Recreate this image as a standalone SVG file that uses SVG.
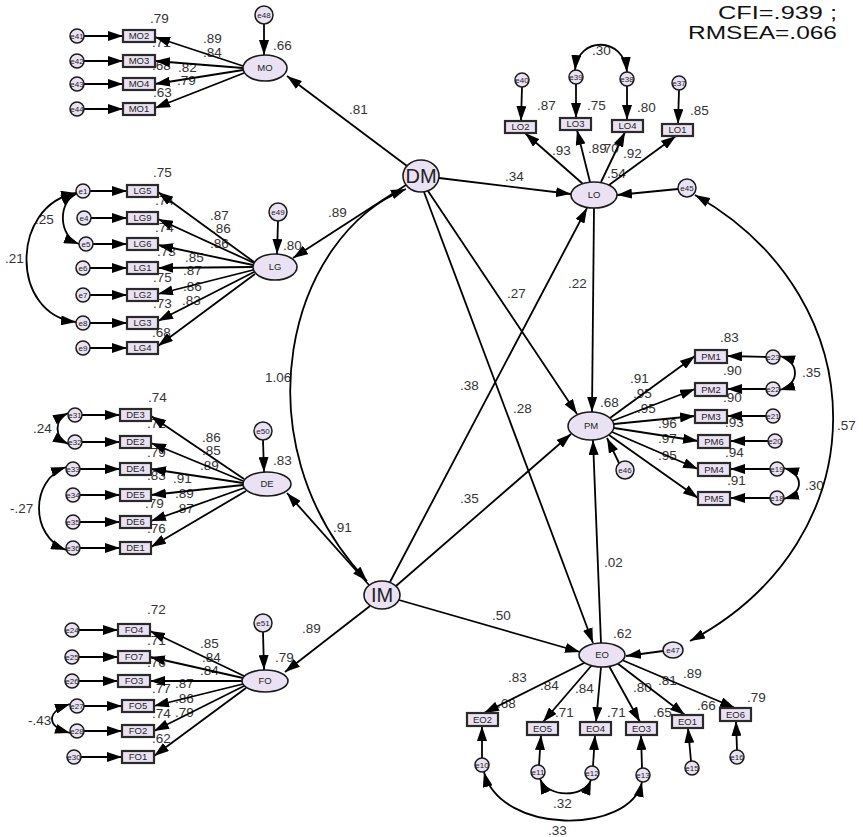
<svg xmlns="http://www.w3.org/2000/svg" width="863" height="837" viewBox="0 0 863 837">
<defs>
<marker id="ah" markerUnits="userSpaceOnUse" markerWidth="15" markerHeight="10" viewBox="0 0 15 10" refX="15" refY="5" orient="auto-start-reverse"><path d="M0,0 L15,5 L0,10 z" fill="#000"/></marker>
</defs>
<style>
.lv{fill:#EAE2F2;stroke:#1a1a1a;stroke-width:1.6}
.ob{fill:#EAE2F2;stroke:#2a2a2a;stroke-width:2.2}
.er{fill:#EAE2F2;stroke:#1a1a1a;stroke-width:1.5}
.c{fill:none;stroke:#000;stroke-width:1.8}
.c path{marker-end:url(#ah)}
.c path.b{marker-start:url(#ah)}
.t{font-family:"Liberation Sans",Arial,sans-serif;font-size:13.5px;fill:#333}
.tn{font-family:"Liberation Sans",Arial,sans-serif;font-size:9.5px;fill:#222;text-anchor:middle}
.te{font-family:"Liberation Sans",Arial,sans-serif;font-size:8px;fill:#222;text-anchor:middle}
.tb{font-family:"Liberation Sans",Arial,sans-serif;font-size:20px;fill:#222;text-anchor:middle}
.fit{font-family:"Liberation Sans",Arial,sans-serif;font-size:18.5px;fill:#111}
</style>
<rect width="863" height="837" fill="#fff"/>
<text class="fit" x="718" y="19" textLength="119" lengthAdjust="spacingAndGlyphs">CFI=.939 ;</text>
<text class="fit" x="688" y="39" textLength="149" lengthAdjust="spacingAndGlyphs">RMSEA=.066</text>
<g id="labels" class="t">
<text x="150" y="23">.79</text><text x="152" y="47">.71</text><text x="152" y="70">.68</text><text x="153" y="97">.63</text>
<text x="203" y="43">.89</text><text x="203" y="57">.84</text><text x="178" y="72">.82</text><text x="177" y="85">.79</text><text x="273" y="50">.66</text>
<text x="349" y="114">.81</text>
<text x="153" y="177">.75</text><text x="155" y="205">.74</text><text x="155" y="232">.74</text><text x="157" y="256">.73</text><text x="153" y="282">.75</text><text x="153" y="308">.73</text><text x="152" y="337">.68</text>
<text x="210" y="220">.87</text><text x="212" y="233">.86</text><text x="210" y="248">.86</text><text x="185" y="262">.85</text><text x="183" y="275">.87</text><text x="183" y="291">.86</text><text x="182" y="305">.83</text>
<text x="283" y="250">.80</text><text x="35" y="224">.25</text><text x="5" y="263">.21</text>
<text x="328" y="217">.89</text><text x="265" y="382">1.06</text>
<text x="148" y="402">.74</text><text x="147" y="428">.72</text><text x="147" y="457">.79</text><text x="147" y="480">.83</text><text x="145" y="508">.79</text><text x="147" y="533">.76</text>
<text x="202" y="442">.86</text><text x="202" y="455">.85</text><text x="200" y="470">.89</text><text x="173" y="483">.91</text><text x="175" y="498">.89</text><text x="175" y="513">.87</text>
<text x="273" y="465">.83</text><text x="33" y="433">.24</text><text x="10" y="513">-.27</text><text x="333" y="532">.91</text>
<text x="147" y="614">.72</text><text x="147" y="645">.71</text><text x="147" y="667">.76</text><text x="152" y="693">.77</text><text x="152" y="718">.74</text><text x="152" y="743">.62</text>
<text x="200" y="648">.85</text><text x="202" y="662">.84</text><text x="200" y="675">.84</text><text x="175" y="688">.87</text><text x="175" y="703">.86</text><text x="175" y="717">.79</text>
<text x="275" y="662">.79</text><text x="302" y="633">.89</text><text x="28" y="725">-.43</text>
<text x="537" y="110">.87</text><text x="587" y="110">.75</text><text x="637" y="112">.80</text><text x="690" y="115">.85</text>
<text x="552" y="155">.93</text><text x="588" y="153">.89</text><text x="600" y="153">.70</text><text x="623" y="158">.92</text><text x="607" y="178">.54</text><text x="592" y="55">.30</text><text x="505" y="181">.34</text>
<text x="507" y="298">.27</text><text x="513" y="413">.28</text><text x="460" y="390">.38</text><text x="460" y="503">.35</text><text x="492" y="620">.50</text><text x="568" y="288">.22</text><text x="604" y="567">.02</text>
<text x="720" y="342">.83</text><text x="723" y="375">.90</text><text x="723" y="402">.90</text><text x="725" y="427">.93</text><text x="725" y="457">.94</text><text x="727" y="485">.91</text>
<text x="630" y="383">.91</text><text x="633" y="398">.95</text><text x="637" y="413">.95</text><text x="658" y="428">.96</text><text x="658" y="443">.97</text><text x="658" y="460">.95</text>
<text x="600" y="407">.68</text><text x="802" y="377">.35</text><text x="805" y="490">.30</text><text x="837" y="430">.57</text>
<text x="613" y="638">.62</text><text x="508" y="682">.83</text><text x="540" y="690">.84</text><text x="575" y="693">.84</text><text x="633" y="692">.80</text><text x="658" y="685">.81</text><text x="683" y="678">.89</text>
<text x="497" y="708">.68</text><text x="555" y="717">.71</text><text x="607" y="717">.71</text><text x="653" y="717">.65</text><text x="697" y="710">.66</text><text x="747" y="702">.79</text>
<text x="553" y="808">.32</text><text x="548" y="835">.33</text>
</g>
<g id="connectors" class="c">
<path d="M84,36 L123,36"/><path d="M84,61 L123,61"/><path d="M84,84 L123,84"/><path d="M84,109 L123,109"/>
<path d="M243,66 L155,37"/><path d="M243,68 L155,61"/><path d="M243,70 L155,84"/><path d="M244,73 L155,108"/>
<path d="M264,24 L264,55"/><path d="M407,166 L287,76"/>
<path d="M90,191 L127,191"/><path d="M91,218 L127,218"/><path d="M93,244 L127,244"/><path d="M90,268 L127,268"/><path d="M90,295 L127,295"/><path d="M90,323 L127,323"/><path d="M90,348 L127,348"/>
<path d="M254,262 L158,192"/><path d="M254,263 L158,219"/><path d="M253,265 L158,245"/><path d="M253,267 L158,268"/><path d="M253,270 L158,294"/><path d="M254,272 L158,321"/><path d="M255,274 L158,346"/>
<path class="b" d="M76,194 C58,202 58,236 79,244"/><path class="b" d="M76,193 C10,205 10,315 76,322"/>
<path d="M278,221 L277,254"/><path d="M406,185 L293,258"/>
<path class="b" d="M406,189 C290,235 235,440 367,581"/>
<path d="M82,415 L120,415"/><path d="M82,442 L120,442"/><path d="M80,469 L120,469"/><path d="M80,495 L120,495"/><path d="M80,522 L120,522"/><path d="M80,548 L120,548"/>
<path d="M244,479 L151,416"/><path d="M243,481 L151,443"/><path d="M243,483 L151,469"/><path d="M243,485 L151,495"/><path d="M244,488 L151,521"/><path d="M246,491 L151,547"/>
<path class="b" d="M68,413 C54,420 54,437 68,444"/><path class="b" d="M66,467 C30,480 30,536 66,550"/>
<path d="M263,440 L264,472"/><path d="M369,585 L287,493"/>
<path d="M79,630 L118,630"/><path d="M79,657 L118,657"/><path d="M79,681 L118,681"/><path d="M84,706 L122,706"/><path d="M84,731 L122,731"/><path d="M81,757 L122,757"/>
<path d="M244,676 L150,631"/><path d="M243,678 L150,657"/><path d="M242,681 L150,681"/><path d="M243,684 L154,706"/><path d="M244,686 L154,731"/><path d="M246,688 L154,756"/>
<path class="b" d="M70,704 C46,712 46,726 70,733"/>
<path d="M263,632 L264,670"/><path d="M370,606 L285,672"/>
<path d="M522,87 L521,121"/><path d="M576,84 L576,118"/><path d="M627,86 L627,120"/><path d="M679,90 L678,124"/>
<path d="M583,184 L525,133"/><path d="M590,182 L577,130"/><path d="M601,182 L625,132"/><path d="M609,185 L676,136"/>
<path class="b" d="M575,70 C578,36 624,36 627,72"/>
<path d="M678,189 L617,195"/>
<path d="M439,178 L571,194"/><path d="M428,191 L577,414"/><path d="M424,192 L593,643"/>
<path d="M390,582 L587,208"/><path d="M396,586 L571,434"/><path d="M399,600 L580,652"/>
<path d="M594,208 L592,412"/><path d="M601,643 L593,440"/>
<path class="b" d="M695,195 C880,300 880,540 690,641"/>
<path d="M610,418 L695,356"/><path d="M612,421 L695,389"/><path d="M614,424 L695,416"/><path d="M614,428 L698,441"/><path d="M612,432 L698,469"/><path d="M609,435 L698,498"/>
<path d="M766,357 L727,356"/><path d="M766,389 L727,389"/><path d="M766,416 L727,416"/><path d="M768,441 L730,441"/><path d="M770,469 L730,469"/><path d="M770,498 L730,498"/>
<path class="b" d="M780,356 C800,362 800,384 780,390"/><path class="b" d="M784,468 C804,474 804,493 784,499"/>
<path d="M619,463 L607,438"/>
<path d="M586,662 L484,713"/><path d="M592,665 L543,722"/><path d="M601,667 L596,722"/><path d="M609,666 L640,722"/><path d="M617,663 L685,715"/><path d="M622,660 L735,708"/>
<path d="M482,758 L482,726"/><path d="M539,765 L541,735"/><path d="M593,766 L595,735"/><path d="M642,768 L641,735"/><path d="M691,761 L688,728"/><path d="M737,750 L736,721"/>
<path class="b" d="M540,779 C548,798 584,798 591,780"/><path class="b" d="M484,772 C500,835 630,835 642,782"/>
<path d="M663,651 L626,656"/>
</g>
<g id="DM"><ellipse class="lv" cx="421" cy="176" rx="18" ry="16"/><text class="tb" x="421" y="183">DM</text></g>
<g id="IM"><ellipse class="lv" cx="382" cy="595" rx="18" ry="14"/><text class="tb" x="382" y="602">IM</text></g>
<g id="MO"><ellipse class="lv" cx="265" cy="68" rx="22" ry="13"/><text class="tn" x="265" y="71">MO</text></g>
<g id="e48"><circle class="er" cx="264" cy="15" r="9"/><text class="te" x="264" y="18">e48</text></g>
<g id="MO2"><rect class="ob" x="123" y="30" width="32" height="12"/><text class="tn" x="139" y="39">MO2</text></g>
<g id="MO3"><rect class="ob" x="123" y="55" width="32" height="12"/><text class="tn" x="139" y="64">MO3</text></g>
<g id="MO4"><rect class="ob" x="123" y="78" width="32" height="12"/><text class="tn" x="139" y="87">MO4</text></g>
<g id="MO1"><rect class="ob" x="123" y="103" width="32" height="12"/><text class="tn" x="139" y="112">MO1</text></g>
<g id="e41"><circle class="er" cx="77" cy="36" r="7"/><text class="te" x="77" y="39">e41</text></g>
<g id="e42"><circle class="er" cx="77" cy="61" r="7"/><text class="te" x="77" y="64">e42</text></g>
<g id="e43"><circle class="er" cx="77" cy="84" r="7"/><text class="te" x="77" y="87">e43</text></g>
<g id="e44"><circle class="er" cx="77" cy="109" r="7"/><text class="te" x="77" y="112">e44</text></g>
<g id="LG"><ellipse class="lv" cx="275" cy="267" rx="22" ry="13"/><text class="tn" x="275" y="270">LG</text></g>
<g id="e49"><circle class="er" cx="278" cy="212" r="9"/><text class="te" x="278" y="215">e49</text></g>
<g id="LG5"><rect class="ob" x="127" y="185" width="31" height="12"/><text class="tn" x="142.5" y="194">LG5</text></g>
<g id="LG9"><rect class="ob" x="127" y="212" width="31" height="12"/><text class="tn" x="142.5" y="221">LG9</text></g>
<g id="LG6"><rect class="ob" x="127" y="238" width="31" height="12"/><text class="tn" x="142.5" y="247">LG6</text></g>
<g id="LG1"><rect class="ob" x="127" y="262" width="31" height="12"/><text class="tn" x="142.5" y="271">LG1</text></g>
<g id="LG2"><rect class="ob" x="127" y="289" width="31" height="12"/><text class="tn" x="142.5" y="298">LG2</text></g>
<g id="LG3"><rect class="ob" x="127" y="317" width="31" height="12"/><text class="tn" x="142.5" y="326">LG3</text></g>
<g id="LG4"><rect class="ob" x="127" y="342" width="31" height="12"/><text class="tn" x="142.5" y="351">LG4</text></g>
<g id="e1"><circle class="er" cx="83" cy="191" r="7"/><text class="te" x="83" y="194">e1</text></g>
<g id="e4"><circle class="er" cx="84" cy="218" r="7"/><text class="te" x="84" y="221">e4</text></g>
<g id="e5"><circle class="er" cx="86" cy="244" r="7"/><text class="te" x="86" y="247">e5</text></g>
<g id="e6"><circle class="er" cx="83" cy="268" r="7"/><text class="te" x="83" y="271">e6</text></g>
<g id="e7"><circle class="er" cx="83" cy="295" r="7"/><text class="te" x="83" y="298">e7</text></g>
<g id="e8"><circle class="er" cx="83" cy="323" r="7"/><text class="te" x="83" y="326">e8</text></g>
<g id="e9"><circle class="er" cx="83" cy="348" r="7"/><text class="te" x="83" y="351">e9</text></g>
<g id="DE"><ellipse class="lv" cx="267" cy="484" rx="24" ry="12"/><text class="tn" x="267" y="487">DE</text></g>
<g id="e50"><circle class="er" cx="263" cy="431" r="9"/><text class="te" x="263" y="434">e50</text></g>
<g id="DE3"><rect class="ob" x="120" y="409" width="31" height="12"/><text class="tn" x="135.5" y="418">DE3</text></g>
<g id="DE2"><rect class="ob" x="120" y="436" width="31" height="12"/><text class="tn" x="135.5" y="445">DE2</text></g>
<g id="DE4"><rect class="ob" x="120" y="463" width="31" height="12"/><text class="tn" x="135.5" y="472">DE4</text></g>
<g id="DE5"><rect class="ob" x="120" y="489" width="31" height="12"/><text class="tn" x="135.5" y="498">DE5</text></g>
<g id="DE6"><rect class="ob" x="120" y="516" width="31" height="12"/><text class="tn" x="135.5" y="525">DE6</text></g>
<g id="DE1"><rect class="ob" x="120" y="542" width="31" height="12"/><text class="tn" x="135.5" y="551">DE1</text></g>
<g id="e31"><circle class="er" cx="75" cy="415" r="7"/><text class="te" x="75" y="418">e31</text></g>
<g id="e32"><circle class="er" cx="75" cy="442" r="7"/><text class="te" x="75" y="445">e32</text></g>
<g id="e33"><circle class="er" cx="73" cy="469" r="7"/><text class="te" x="73" y="472">e33</text></g>
<g id="e34"><circle class="er" cx="73" cy="495" r="7"/><text class="te" x="73" y="498">e34</text></g>
<g id="e35"><circle class="er" cx="73" cy="522" r="7"/><text class="te" x="73" y="525">e35</text></g>
<g id="e36"><circle class="er" cx="73" cy="548" r="7"/><text class="te" x="73" y="551">e36</text></g>
<g id="FO"><ellipse class="lv" cx="265" cy="681" rx="23" ry="11"/><text class="tn" x="265" y="684">FO</text></g>
<g id="e51"><circle class="er" cx="263" cy="623" r="9"/><text class="te" x="263" y="626">e51</text></g>
<g id="FO4"><rect class="ob" x="118" y="624" width="32" height="12"/><text class="tn" x="134" y="633">FO4</text></g>
<g id="FO7"><rect class="ob" x="118" y="651" width="32" height="12"/><text class="tn" x="134" y="660">FO7</text></g>
<g id="FO3"><rect class="ob" x="118" y="675" width="32" height="12"/><text class="tn" x="134" y="684">FO3</text></g>
<g id="FO5"><rect class="ob" x="122" y="700" width="32" height="12"/><text class="tn" x="138" y="709">FO5</text></g>
<g id="FO2"><rect class="ob" x="122" y="725" width="32" height="12"/><text class="tn" x="138" y="734">FO2</text></g>
<g id="FO1"><rect class="ob" x="122" y="751" width="32" height="12"/><text class="tn" x="138" y="760">FO1</text></g>
<g id="e24"><circle class="er" cx="72" cy="630" r="7"/><text class="te" x="72" y="633">e24</text></g>
<g id="e25"><circle class="er" cx="72" cy="657" r="7"/><text class="te" x="72" y="660">e25</text></g>
<g id="e26"><circle class="er" cx="72" cy="681" r="7"/><text class="te" x="72" y="684">e26</text></g>
<g id="e27"><circle class="er" cx="77" cy="706" r="7"/><text class="te" x="77" y="709">e27</text></g>
<g id="e28"><circle class="er" cx="77" cy="731" r="7"/><text class="te" x="77" y="734">e28</text></g>
<g id="e30"><circle class="er" cx="74" cy="757" r="7"/><text class="te" x="74" y="760">e30</text></g>
<g id="LO"><ellipse class="lv" cx="594" cy="195" rx="23" ry="13"/><text class="tn" x="594" y="198">LO</text></g>
<g id="LO2"><rect class="ob" x="505" y="121" width="31" height="12"/><text class="tn" x="520.5" y="130">LO2</text></g>
<g id="LO3"><rect class="ob" x="560" y="118" width="31" height="12"/><text class="tn" x="575.5" y="127">LO3</text></g>
<g id="LO4"><rect class="ob" x="612" y="120" width="31" height="12"/><text class="tn" x="627.5" y="129">LO4</text></g>
<g id="LO1"><rect class="ob" x="662" y="124" width="31" height="12"/><text class="tn" x="677.5" y="133">LO1</text></g>
<g id="e40"><circle class="er" cx="522" cy="80" r="7"/><text class="te" x="522" y="83">e40</text></g>
<g id="e39"><circle class="er" cx="576" cy="77" r="7"/><text class="te" x="576" y="80">e39</text></g>
<g id="e38"><circle class="er" cx="627" cy="79" r="7"/><text class="te" x="627" y="82">e38</text></g>
<g id="e37"><circle class="er" cx="679" cy="83" r="7"/><text class="te" x="679" y="86">e37</text></g>
<g id="e45"><circle class="er" cx="687" cy="188" r="9"/><text class="te" x="687" y="191">e45</text></g>
<g id="PM"><ellipse class="lv" cx="591" cy="426" rx="23" ry="14"/><text class="tn" x="591" y="429">PM</text></g>
<g id="PM1"><rect class="ob" x="695" y="350" width="32" height="13"/><text class="tn" x="711" y="360">PM1</text></g>
<g id="PM2"><rect class="ob" x="695" y="383" width="32" height="13"/><text class="tn" x="711" y="393">PM2</text></g>
<g id="PM3"><rect class="ob" x="695" y="410" width="32" height="13"/><text class="tn" x="711" y="420">PM3</text></g>
<g id="PM6"><rect class="ob" x="698" y="435" width="32" height="13"/><text class="tn" x="714" y="445">PM6</text></g>
<g id="PM4"><rect class="ob" x="698" y="463" width="32" height="13"/><text class="tn" x="714" y="473">PM4</text></g>
<g id="PM5"><rect class="ob" x="698" y="492" width="32" height="13"/><text class="tn" x="714" y="502">PM5</text></g>
<g id="e23"><circle class="er" cx="773" cy="357" r="7"/><text class="te" x="773" y="360">e23</text></g>
<g id="e22"><circle class="er" cx="773" cy="389" r="7"/><text class="te" x="773" y="392">e22</text></g>
<g id="e21"><circle class="er" cx="773" cy="416" r="7"/><text class="te" x="773" y="419">e21</text></g>
<g id="e20"><circle class="er" cx="775" cy="441" r="7"/><text class="te" x="775" y="444">e20</text></g>
<g id="e19"><circle class="er" cx="777" cy="469" r="7"/><text class="te" x="777" y="472">e19</text></g>
<g id="e18"><circle class="er" cx="777" cy="498" r="7"/><text class="te" x="777" y="501">e18</text></g>
<g id="e46"><circle class="er" cx="625" cy="470" r="9"/><text class="te" x="625" y="473">e46</text></g>
<g id="EO"><ellipse class="lv" cx="602" cy="655" rx="23" ry="12"/><text class="tn" x="602" y="658">EO</text></g>
<g id="e47"><ellipse class="er" cx="673" cy="650" rx="10" ry="8"/><text class="te" x="673" y="653">e47</text></g>
<g id="EO2"><rect class="ob" x="467" y="713" width="31" height="13"/><text class="tn" x="482.5" y="723">EO2</text></g>
<g id="EO5"><rect class="ob" x="527" y="722" width="31" height="13"/><text class="tn" x="542.5" y="732">EO5</text></g>
<g id="EO4"><rect class="ob" x="580" y="722" width="31" height="13"/><text class="tn" x="595.5" y="732">EO4</text></g>
<g id="EO3"><rect class="ob" x="626" y="722" width="31" height="13"/><text class="tn" x="641.5" y="732">EO3</text></g>
<g id="EO1"><rect class="ob" x="672" y="715" width="31" height="13"/><text class="tn" x="687.5" y="725">EO1</text></g>
<g id="EO6"><rect class="ob" x="720" y="708" width="31" height="13"/><text class="tn" x="735.5" y="718">EO6</text></g>
<g id="e10"><circle class="er" cx="482" cy="765" r="7"/><text class="te" x="482" y="768">e10</text></g>
<g id="e11"><circle class="er" cx="538" cy="772" r="7"/><text class="te" x="538" y="775">e11</text></g>
<g id="e12"><circle class="er" cx="592" cy="773" r="7"/><text class="te" x="592" y="776">e12</text></g>
<g id="e13"><circle class="er" cx="643" cy="775" r="7"/><text class="te" x="643" y="778">e13</text></g>
<g id="e15"><circle class="er" cx="692" cy="768" r="7"/><text class="te" x="692" y="771">e15</text></g>
<g id="e16"><circle class="er" cx="737" cy="757" r="7"/><text class="te" x="737" y="760">e16</text></g>
</svg>
